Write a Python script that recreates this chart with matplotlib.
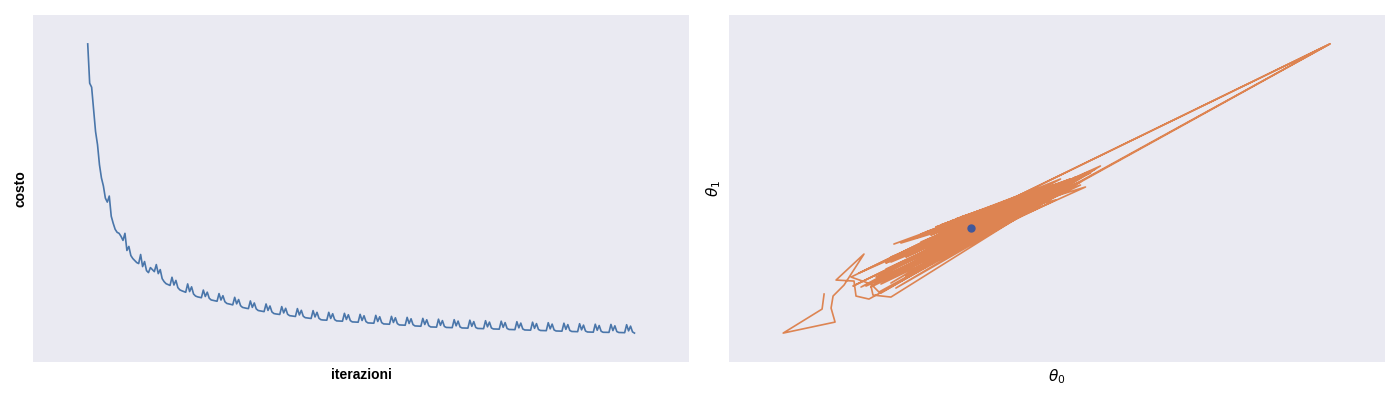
"""
Costo vs iterazioni (SGD) e traiettoria dei parametri theta0 / theta1.
"""

import matplotlib
matplotlib.use("Agg")
import matplotlib.pyplot as plt


# ──────────────────────────────────────────────────────────────
# DATA
# ──────────────────────────────────────────────────────────────
# cost per iteration, 35 epochs x 8 mini-batches
cost_history = [
    3.170, 2.780, 2.740, 2.520, 2.300, 2.170, 1.970, 1.840,
    1.760, 1.640, 1.600, 1.660, 1.460, 1.390, 1.330, 1.300,
    1.290, 1.260, 1.220, 1.290, 1.120, 1.160, 1.070, 1.040,
    1.020, 1.000, 0.990, 1.080, 0.960, 1.010, 0.920, 0.900,
    0.950, 0.930, 0.910, 0.980, 0.890, 0.930, 0.840, 0.810,
    0.790, 0.781, 0.773, 0.854, 0.777, 0.823, 0.751, 0.729,
    0.720, 0.713, 0.705, 0.788, 0.712, 0.759, 0.688, 0.668,
    0.660, 0.656, 0.651, 0.727, 0.663, 0.706, 0.646, 0.629,
    0.625, 0.621, 0.616, 0.692, 0.628, 0.671, 0.611, 0.594,
    0.590, 0.585, 0.580, 0.655, 0.590, 0.633, 0.572, 0.555,
    0.550, 0.546, 0.543, 0.619, 0.555, 0.599, 0.540, 0.524,
    0.520, 0.516, 0.513, 0.589, 0.525, 0.569, 0.510, 0.494,
    0.490, 0.488, 0.485, 0.563, 0.500, 0.546, 0.487, 0.473,
    0.470, 0.468, 0.465, 0.543, 0.480, 0.526, 0.467, 0.453,
    0.450, 0.448, 0.445, 0.523, 0.460, 0.506, 0.447, 0.433,
    0.430, 0.429, 0.428, 0.506, 0.445, 0.492, 0.434, 0.421,
    0.420, 0.419, 0.418, 0.496, 0.435, 0.482, 0.424, 0.411,
    0.410, 0.409, 0.408, 0.486, 0.425, 0.472, 0.414, 0.401,
    0.400, 0.399, 0.398, 0.476, 0.415, 0.462, 0.404, 0.391,
    0.390, 0.389, 0.388, 0.466, 0.405, 0.452, 0.394, 0.381,
    0.380, 0.379, 0.378, 0.456, 0.395, 0.442, 0.384, 0.371,
    0.370, 0.369, 0.368, 0.446, 0.385, 0.432, 0.374, 0.361,
    0.360, 0.359, 0.359, 0.438, 0.377, 0.424, 0.366, 0.356,
    0.355, 0.354, 0.354, 0.433, 0.372, 0.419, 0.361, 0.351,
    0.350, 0.349, 0.349, 0.428, 0.367, 0.414, 0.356, 0.346,
    0.345, 0.344, 0.344, 0.423, 0.362, 0.409, 0.351, 0.341,
    0.340, 0.339, 0.339, 0.418, 0.357, 0.404, 0.346, 0.336,
    0.335, 0.334, 0.334, 0.413, 0.352, 0.399, 0.341, 0.331,
    0.330, 0.329, 0.329, 0.408, 0.347, 0.394, 0.336, 0.326,
    0.325, 0.324, 0.324, 0.403, 0.342, 0.389, 0.331, 0.321,
    0.320, 0.319, 0.319, 0.398, 0.337, 0.384, 0.326, 0.316,
    0.315, 0.314, 0.314, 0.393, 0.332, 0.379, 0.321, 0.311,
    0.310, 0.310, 0.309, 0.388, 0.328, 0.375, 0.318, 0.308,
    0.308, 0.307, 0.307, 0.386, 0.325, 0.372, 0.315, 0.306,
    0.305, 0.304, 0.304, 0.383, 0.322, 0.369, 0.312, 0.300,
]

# parameter trajectory
theta0_history = [
    0.41, 0.39, 0.00, 0.52, 0.48, 0.50, 0.61, 0.81, 0.53, 0.71,
    0.73, 0.86, 5.48, 0.68, 0.88, 0.96, 5.48, 0.76, 3.08, 0.70,
    2.88, 0.98, 3.18, 1.03, 2.78, 1.11, 2.63, 0.93, 3.03, 1.23,
    2.73, 1.28, 2.58, 1.08, 2.93, 1.33, 2.68, 1.41, 2.48, 1.18,
    2.83, 1.43, 2.53, 1.53, 2.43,
    0.88, 0.90, 1.08, 3.13, 1.13, 2.98,
    0.83, 3.03, 1.18, 2.78, 0.93, 2.88, 1.33, 2.68, 0.88, 2.98,
    1.08, 2.58, 1.23, 2.93, 0.98, 2.73, 1.43, 2.63, 1.13, 2.83,
    1.03, 3.08, 1.48, 2.53, 0.78, 2.88, 1.28, 2.68, 1.58, 2.48,
    1.38, 2.88, 1.58, 2.63, 1.73, 2.48, 1.53, 2.78, 1.78, 2.28,
    1.68, 2.58,
    1.18, 2.98, 1.38, 2.78, 1.53, 2.43, 1.08, 2.88, 1.63, 2.38,
    1.33, 2.58, 1.68, 2.28, 1.43, 2.63, 1.58, 2.33, 1.73, 2.23,
    1.63, 2.18, 1.76, 2.13, 1.78, 2.08,
    1.30, 2.63, 1.58, 2.38, 1.63,
    2.33, 1.48, 2.48, 1.68, 2.26, 1.73, 2.18, 1.63, 2.30, 1.78,
    2.13, 1.76, 2.08, 1.83, 2.03, 1.88,
]
theta1_history = [
    0.40, 0.25, 0.01, 0.12, 0.26, 0.38, 0.49, 0.80, 0.54, 0.53,
    0.38, 0.35, 2.90, 0.57, 0.50, 0.42, 2.90, 0.61, 1.63, 0.48,
    1.55, 0.41, 1.68, 0.71, 1.51, 0.90, 1.43, 0.53, 1.61, 0.58,
    1.47, 0.95, 1.40, 0.51, 1.57, 0.71, 1.45, 1.01, 1.36, 0.63,
    1.51, 0.78, 1.37, 0.97, 1.33,
    0.48, 0.39, 0.37, 1.65, 0.46, 1.52,
    0.48, 1.47, 0.91, 1.55, 0.57, 1.51, 0.96, 1.47, 0.47, 1.52,
    0.77, 1.40, 0.77, 1.55, 0.50, 1.34, 1.02, 1.45, 0.67, 1.44,
    0.65, 1.61, 0.99, 1.41, 0.47, 1.46, 0.84, 1.43, 1.09, 1.43,
    1.00, 1.55, 1.09, 1.47, 1.15, 1.40, 1.07, 1.51, 1.17, 1.30,
    1.13, 1.43,
    0.64, 1.49, 0.92, 1.51, 0.87, 1.28, 0.72, 1.51, 1.01, 1.32,
    0.69, 1.29, 1.08, 1.32, 0.81, 1.35, 0.95, 1.27, 1.07, 1.28,
    0.88, 1.12, 1.04, 1.20, 0.99, 1.11,
    0.71, 1.41, 0.88, 1.30, 1.01,
    1.27, 0.81, 1.33, 0.97, 1.23, 0.95, 1.20, 0.87, 1.25, 1.01,
    1.16, 0.97, 1.13, 1.03, 1.11, 1.06,
]

# optimum (blue dot)
theta0_opt = [1.88]
theta1_opt = [1.06]

BG_COLOR   = "#EAEAF2"
COST_COLOR = "#4A76AA"
PATH_COLOR = "#DD8452"
OPT_COLOR  = "#40589C"


def main() -> None:
    plt.rcParams["font.family"] = ["Liberation Sans", "DejaVu Sans"]
    plt.rcParams["mathtext.fontset"] = "dejavusans"

    fig, (ax1, ax2) = plt.subplots(1, 2, figsize=(14, 4), dpi=100)
    fig.subplots_adjust(left=0.0236, right=0.989, bottom=0.095, top=0.9625, wspace=0.06)

    # left: cost history
    ax1.plot(range(len(cost_history)), cost_history, color=COST_COLOR, lw=1.2)
    ax1.set_xlabel("iterazioni", fontsize=10, fontweight="bold")
    ax1.set_ylabel("costo", fontsize=10, fontweight="bold")

    # right: theta trajectory
    ax2.plot(theta0_history, theta1_history, color=PATH_COLOR, lw=1.2)
    ax2.plot(theta0_opt, theta1_opt, "o", color=OPT_COLOR, ms=5, zorder=5)
    ax2.set_xlabel(r"$\theta_0$", fontsize=11)
    ax2.set_ylabel(r"$\theta_1$", fontsize=11)

    for ax in (ax1, ax2):
        ax.set_facecolor(BG_COLOR)
        ax.margins(0.1)
        ax.set_xticks([])
        ax.set_yticks([])
        for spine in ax.spines.values():
            spine.set_visible(False)

    fig.savefig("out.png", dpi=100, facecolor="white")


if __name__ == "__main__":
    main()
